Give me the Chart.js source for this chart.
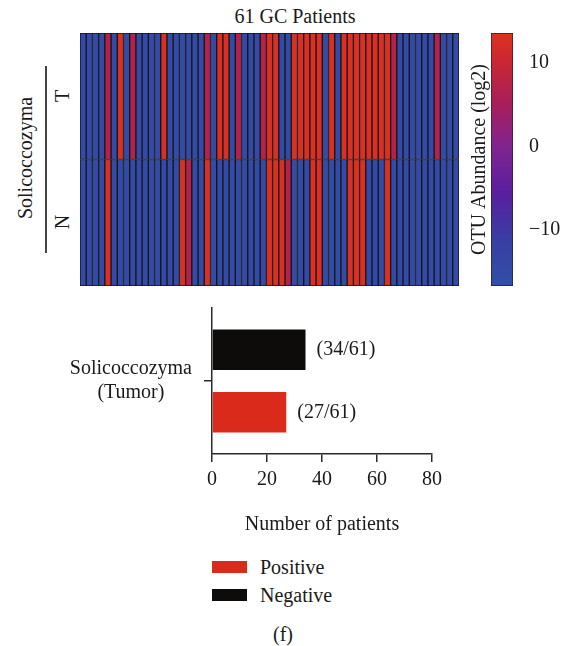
<!DOCTYPE html>
<html>
<head>
<meta charset="utf-8">
<script src="https://cdn.jsdelivr.net/npm/chart.js@4.4.0/dist/chart.umd.min.js"></script>
<style>
body { margin:0; background:#fff; width:565px; height:646px; position:relative; overflow:hidden; font-family:"Liberation Serif", serif; color:#1a1a1a; }
canvas { position:absolute; }
.txt { position:absolute; font-size:20px; line-height:20px; white-space:nowrap; transform:translate(-50%,-50%); }
.rot { transform:translate(-50%,-50%) rotate(-90deg); }
.box { position:absolute; width:35px; height:12px; }
</style>
</head>
<body>
<div class="txt" style="left:295px;top:16px">61 GC Patients</div>
<div class="txt rot" style="left:25px;top:158px">Solicoccozyma</div>
<div style="position:absolute;left:45px;top:66px;width:1.5px;height:187px;background:#444"></div>
<div class="txt rot" style="left:62px;top:96px">T</div>
<div class="txt rot" style="left:62px;top:222px">N</div>

<canvas id="heat" width="379" height="253" style="left:80px;top:33px"></canvas>
<canvas id="scale" width="110" height="273" style="left:455px;top:23px"></canvas>
<canvas id="bars" width="460" height="250" style="left:0;top:290px"></canvas>

<div class="box" style="left:212px;top:561px;background:#d92a1c"></div>
<div class="txt" style="left:260px;top:567px;transform:translate(0,-50%)">Positive</div>
<div class="box" style="left:212px;top:589px;background:#0e0c0b"></div>
<div class="txt" style="left:260px;top:595px;transform:translate(0,-50%)">Negative</div>
<div class="txt" style="left:283px;top:634px">(f)</div>

<script>
// OTU abundance (log2) per patient, tumor (T) and normal (N)
var tValues = [-15,-15,-15,-15,7,-15,13,-15,7,-15,
               -15,-15,-15,13,-15,-15,-15,-15,-15,-15,
               7,-15,13,13,-15,7,-15,-15,-15,7,
               13,13,-15,-15,13,13,13,13,13,-15,
               13,-15,13,13,13,13,13,13,13,13,
               7,-15,-15,-15,-15,-15,-15,7,-15,-15,-15];
var nValues = [-15,-15,-15,-15,13,-15,-15,-15,-15,-15,
               -15,-15,-15,-15,-15,-15,13,7,-15,-15,
               13,-15,-15,-15,-15,-15,-15,-15,-15,-15,
               13,13,13,7,-15,-15,-15,13,13,-15,
               -15,-15,-15,13,13,13,-15,-15,-15,13,
               -15,-15,-15,-15,-15,-15,-15,-15,-15,-15,-15];
var cbMin = -16.7, cbMax = 13.6;
var cbTicks = [-10, 0, 10];

var barCategory = [['Solicoccozyma', '(Tumor)']];
var negative = [34];
var positive = [27];
var totalPatients = 61;
var xTicks = [0, 80, 20]; // min, max, step

var stops = [
  [0.00, [48, 80, 168]],
  [0.20, [58, 60, 162]],
  [0.37, [90, 30, 158]],
  [0.55, [128, 36, 145]],
  [0.72, [168, 30, 90]],
  [0.88, [200, 38, 52]],
  [1.00, [222, 50, 32]]
];
function rgb(c) { return 'rgb(' + c[0] + ',' + c[1] + ',' + c[2] + ')'; }
function colorFor(v) {
  var t = (v - cbMin) / (cbMax - cbMin);
  t = Math.max(0, Math.min(1, t));
  for (var i = 1; i < stops.length; i++) {
    if (t <= stops[i][0]) {
      var a = stops[i - 1], b = stops[i];
      var f = (t - a[0]) / (b[0] - a[0]);
      return rgb([0, 1, 2].map(function (k) { return Math.round(a[1][k] + (b[1][k] - a[1][k]) * f); }));
    }
  }
  return rgb(stops[stops.length - 1][1]);
}

var font = { family: '"Liberation Serif", serif', size: 20 };
var textColor = '#1a1a1a';
var axisColor = '#2a2a2a';

function noVertPad(s) { s.paddingTop = 0; s.paddingBottom = 0; }

// heatmap: one stacked column per patient, N below T
var patients = tValues.map(function (v, i) { return 'P' + (i + 1); });
new Chart(document.getElementById('heat'), {
  type: 'bar',
  data: {
    labels: patients,
    datasets: [
      { label: 'N', data: nValues.map(function () { return 1; }), backgroundColor: nValues.map(colorFor) },
      { label: 'T', data: tValues.map(function () { return 1; }), backgroundColor: tValues.map(colorFor) }
    ]
  },
  options: {
    responsive: false,
    animation: false,
    plugins: { legend: { display: false }, tooltip: { enabled: false } },
    datasets: { bar: { barPercentage: 1, categoryPercentage: 1, borderWidth: 1, borderColor: '#161616', borderSkipped: false } },
    scales: {
      x: { stacked: true, display: false },
      y: { stacked: true, display: false, min: 0, max: 2 }
    }
  }
});

// colour bar
new Chart(document.getElementById('scale'), {
  type: 'bar',
  data: {
    labels: [''],
    datasets: [{
      data: [[cbMin, cbMax]],
      yAxisID: 'y',
      backgroundColor: function (ctx) {
        var a = ctx.chart.chartArea;
        if (!a) return null;
        var g = ctx.chart.ctx.createLinearGradient(0, a.bottom, 0, a.top);
        stops.forEach(function (s) { g.addColorStop(s[0], rgb(s[1])); });
        return g;
      },
      borderColor: '#222',
      borderWidth: 1,
      borderSkipped: false,
      barPercentage: 1,
      categoryPercentage: 1
    }]
  },
  options: {
    responsive: false,
    animation: false,
    layout: { padding: { top: 10, bottom: 10 } },
    plugins: { legend: { display: false }, tooltip: { enabled: false } },
    scales: {
      x: { display: false },
      yl: {
        position: 'left', min: cbMin, max: cbMax,
        ticks: { display: false }, grid: { display: false }, border: { display: false },
        title: { display: true, text: 'OTU Abundance (log2)', font: font, color: textColor, padding: { top: 13, bottom: 0 } },
        afterFit: function (s) { s.width = 36; noVertPad(s); }
      },
      y: {
        position: 'right', min: cbMin, max: cbMax,
        afterBuildTicks: function (s) { s.ticks = cbTicks.map(function (v) { return { value: v }; }); },
        ticks: { font: font, color: textColor, padding: 8, callback: function (v) { return String(v).replace('-', '\u2212'); } },
        grid: { display: false }, border: { display: false },
        afterFit: function (s) { s.width = 52; noVertPad(s); }
      }
    }
  }
});

// bar chart with count labels
var barLabels = {
  id: 'barLabels',
  afterDatasetsDraw: function (chart) {
    var c = chart.ctx;
    c.save();
    c.font = '20px "Liberation Serif"';
    c.fillStyle = textColor;
    c.textBaseline = 'middle';
    chart.data.datasets.forEach(function (ds, i) {
      chart.getDatasetMeta(i).data.forEach(function (bar, j) {
        c.fillText('(' + ds.data[j] + '/' + totalPatients + ')', bar.x + 11, bar.y);
      });
    });
    c.restore();
  }
};

new Chart(document.getElementById('bars'), {
  type: 'bar',
  data: {
    labels: barCategory,
    datasets: [
      { label: 'Negative', data: negative, backgroundColor: '#0e0c0b' },
      { label: 'Positive', data: positive, backgroundColor: '#d92a1c' }
    ]
  },
  options: {
    indexAxis: 'y',
    responsive: false,
    animation: false,
    layout: { padding: { top: 18, right: 28 } },
    plugins: { legend: { display: false }, tooltip: { enabled: false } },
    datasets: { bar: { categoryPercentage: 0.857, barPercentage: 0.65 } },
    scales: {
      x: {
        min: xTicks[0], max: xTicks[1],
        ticks: { stepSize: xTicks[2], font: font, color: textColor, padding: 6 },
        grid: { drawOnChartArea: false, tickLength: 8, color: axisColor, lineWidth: 1.5 },
        border: { color: axisColor, width: 1.5 },
        title: { display: true, text: 'Number of patients', font: font, color: textColor, padding: { top: 0, bottom: 3 } },
        afterFit: function (s) { s.height = 86; }
      },
      y: {
        ticks: { font: font, color: textColor, crossAlign: 'center', padding: 12 },
        grid: { drawOnChartArea: false, offset: false, tickLength: 8, color: axisColor, lineWidth: 1.5 },
        border: { color: axisColor, width: 1.5 },
        afterFit: function (s) { s.width = 212; noVertPad(s); }
      }
    }
  },
  plugins: [barLabels]
});
</script>
</body>
</html>
